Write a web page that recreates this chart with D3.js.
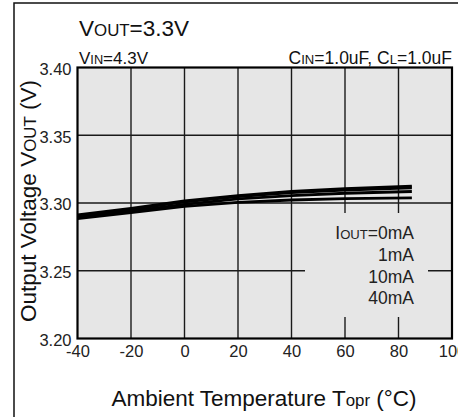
<!DOCTYPE html>
<html>
<head>
<meta charset="utf-8">
<script src="https://cdn.jsdelivr.net/npm/d3@7"></script>
<style>
  html, body { margin: 0; padding: 0; background: #fff; }
  svg { display: block; font-family: "Liberation Sans", Arial, Helvetica, sans-serif; }
</style>
</head>
<body>
<svg id="chart" width="458" height="417"></svg>
<script>
// Output voltage vs. ambient temperature, one series per load current
const temps = [-40, -20, 0, 20, 40, 60, 85];
const vout0mA  = [3.2912, 3.2960, 3.3015, 3.3055, 3.3085, 3.3105, 3.3125];
const vout1mA  = [3.2905, 3.2953, 3.3008, 3.3048, 3.3076, 3.3095, 3.3112];
const vout10mA = [3.2895, 3.2940, 3.2990, 3.3030, 3.3055, 3.3072, 3.3085];
const vout40mA = [3.2885, 3.2930, 3.2975, 3.3005, 3.3022, 3.3032, 3.3038];
const seriesNames = ["0mA", "1mA", "10mA", "40mA"];
const xTicks = [-40, -20, 0, 20, 40, 60, 80, 100];
const yTicks = [3.20, 3.25, 3.30, 3.35, 3.40];

const series = [vout0mA, vout1mA, vout10mA, vout40mA];

const svg = d3.select("#chart");
const plot = { left: 77.5, right: 452, top: 67.5, bottom: 338.5 };

const x = d3.scaleLinear().domain([-40, 100]).range([plot.left, plot.right]);
const y = d3.scaleLinear().domain([3.20, 3.40]).range([plot.bottom, plot.top]);

// outer frame (top and left edges)
svg.append("path")
  .attr("d", "M14,417 L14,3 L458,3")
  .attr("fill", "none").attr("stroke", "#111").attr("stroke-width", 1.5);

// plot background
svg.append("rect")
  .attr("x", plot.left).attr("y", plot.top)
  .attr("width", plot.right - plot.left).attr("height", plot.bottom - plot.top)
  .attr("fill", "#e6e6e6");

// grid
const grid = svg.append("g");
grid.selectAll("line.vx").data(xTicks.slice(1, -1)).join("line")
  .attr("x1", d => x(d)).attr("x2", d => x(d))
  .attr("y1", plot.top).attr("y2", plot.bottom)
  .attr("stroke", "#1a1a1a").attr("stroke-width", 1.4);
grid.selectAll("line.hy").data(yTicks.slice(1, -1)).join("line")
  .attr("x1", plot.left).attr("x2", plot.right)
  .attr("y1", d => y(d)).attr("y2", d => y(d))
  .attr("stroke", "#1a1a1a").attr("stroke-width", 1.4);

// legend panel masks the grid behind it
svg.append("rect")
  .attr("x", 305).attr("y", 213).attr("width", 123).attr("height", 104)
  .attr("fill", "#e6e6e6");

// curves
const line = d3.line().x((d, i) => x(temps[i])).y(d => y(d));
svg.append("g").selectAll("path").data(series).join("path")
  .attr("d", d => line(d))
  .attr("fill", "none").attr("stroke", "#000").attr("stroke-width", 2.8)
  .attr("stroke-linejoin", "round");

// plot border
svg.append("rect")
  .attr("x", plot.left).attr("y", plot.top)
  .attr("width", plot.right - plot.left).attr("height", plot.bottom - plot.top)
  .attr("fill", "none").attr("stroke", "#000").attr("stroke-width", 2.2);

// axes (labels only); negative values use a plain hyphen
const xAxis = d3.axisBottom(x).tickValues(xTicks).tickSize(0).tickPadding(7).tickFormat(d => String(d));
const gx = svg.append("g").attr("transform", `translate(0,${plot.bottom})`).call(xAxis);
gx.select(".domain").remove();
gx.selectAll("text").attr("font-size", 16.5).attr("fill", "#222").attr("font-family", null);

const yAxis = d3.axisLeft(y).tickValues(yTicks).tickSize(0).tickPadding(6).tickFormat(d3.format(".2f"));
const gy = svg.append("g").attr("transform", `translate(${plot.left},0)`).call(yAxis);
gy.select(".domain").remove();
gy.selectAll("text").attr("font-size", 16.5).attr("fill", "#222").attr("font-family", null).attr("dy", "0.42em");

// text helper: main text with smaller-cap runs
function richText(sel, parts, size) {
  parts.forEach(p => {
    sel.append("tspan").attr("font-size", p.small ? size * 0.75 : size).text(p.t);
  });
  return sel;
}

richText(svg.append("text").attr("x", 79).attr("y", 36).attr("fill", "#111"),
  [{t: "V"}, {t: "OUT", small: true}, {t: "=3.3V"}], 22.5);

richText(svg.append("text").attr("x", 79).attr("y", 64).attr("fill", "#111"),
  [{t: "V"}, {t: "IN", small: true}, {t: "=4.3V"}], 17);

richText(svg.append("text").attr("x", 452).attr("y", 64).attr("text-anchor", "end").attr("fill", "#111"),
  [{t: "C"}, {t: "IN", small: true}, {t: "=1.0uF, C"}, {t: "L", small: true}, {t: "=1.0uF"}], 17.5);

// axis titles
richText(svg.append("text").attr("x", 264).attr("y", 406).attr("text-anchor", "middle").attr("fill", "#111"),
  [{t: "Ambient Temperature T"}, {t: "opr", small: true}, {t: " (°C)"}], 22.5);

richText(svg.append("text").attr("transform", "translate(35.5,201) rotate(-90)").attr("text-anchor", "middle").attr("fill", "#111"),
  [{t: "Output Voltage V"}, {t: "OUT", small: true}, {t: " (V)"}], 22.5);

// legend
const legendY = [239, 261, 283, 304];
const leg = svg.append("g");
seriesNames.forEach((name, i) => {
  const t = leg.append("text").attr("x", 414).attr("y", legendY[i]).attr("text-anchor", "end").attr("fill", "#222");
  if (i === 0) richText(t, [{t: "I"}, {t: "OUT", small: true}, {t: "=" + name}], 17.5);
  else richText(t, [{t: name}], 17.5);
});
</script>
</body>
</html>
